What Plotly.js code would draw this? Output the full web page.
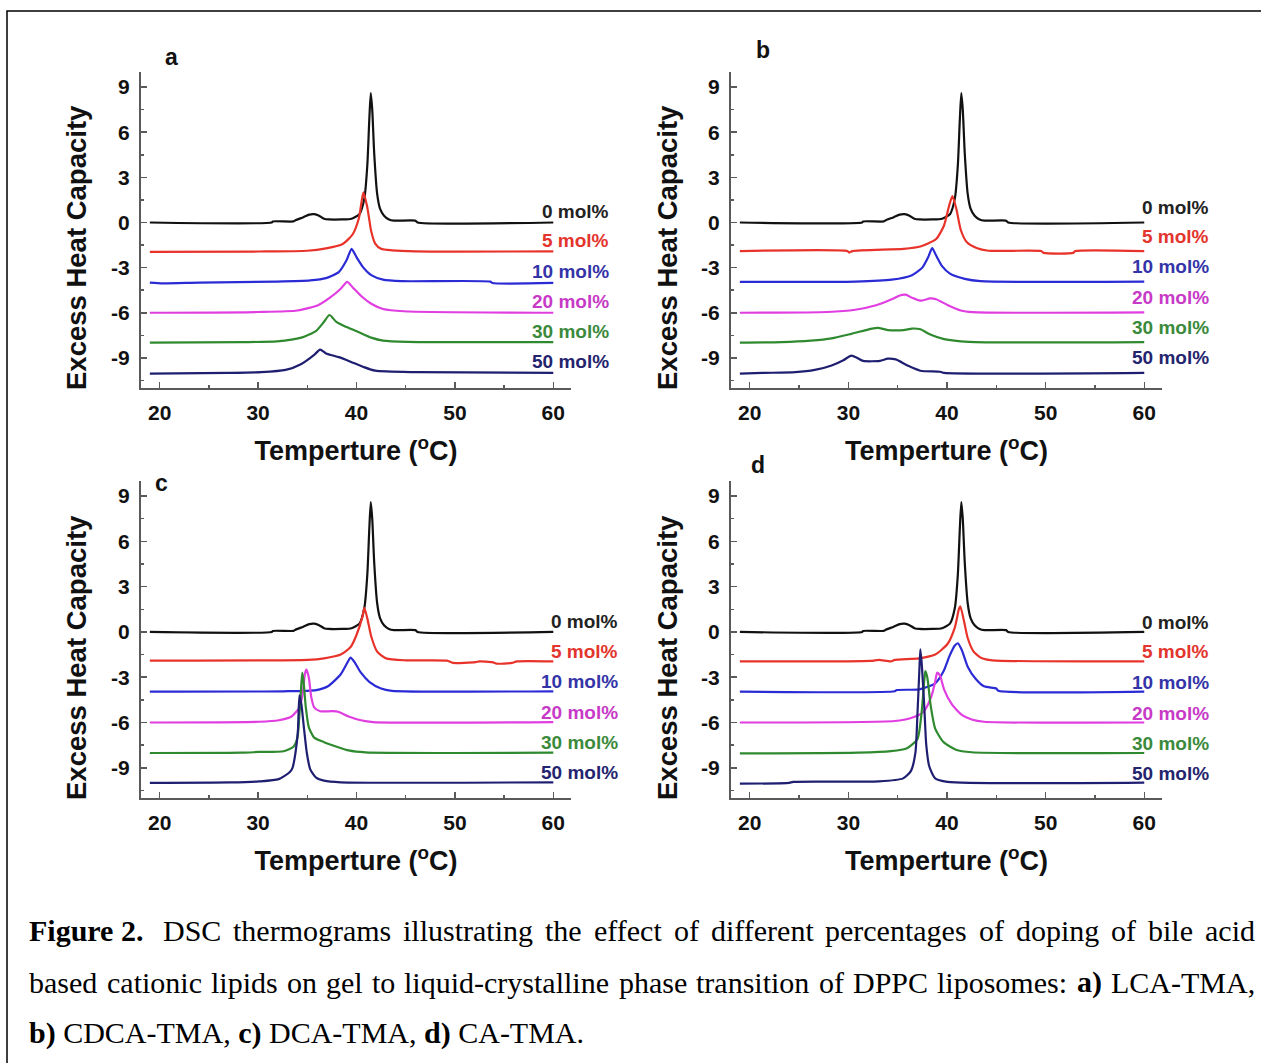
<!DOCTYPE html>
<html><head><meta charset="utf-8">
<script src="https://cdn.plot.ly/plotly-3.0.1.min.js"></script>
<style>body{margin:0;background:#fff} #chart{width:1261px;height:1063px}</style>
</head><body><div id="chart"></div>
<script>
// ---- data (temperature in °C, excess heat capacity, curves offset as drawn) ----
const seriesLabels = ['0 mol%','5 mol%','10 mol%','20 mol%','30 mol%','50 mol%'];
const panelLetters = ['a','b','c','d'];
const yTickVals = [-9, -6, -3, 0, 3, 6, 9];
const xTickVals = [20, 30, 40, 50, 60];

// pure DPPC (0 mol%) - same trace in all panels
const dppc0T = [19, 31.4, 31.5, 33.6, 33.8, 34.6, 35.2, 35.7, 36.2, 36.7, 37.2, 38.5, 39.5, 40.3, 40.8, 41.1, 41.3, 41.45, 41.6, 41.8, 42.1, 42.4, 42.8, 43.3, 43.8, 46.0, 46.2, 60];
const dppc0Y = [0, 0, 0.07, 0.07, 0.15, 0.35, 0.52, 0.55, 0.45, 0.25, 0.2, 0.2, 0.25, 0.55, 1.6, 3.8, 6.8, 8.6, 7.5, 4.6, 1.9, 0.9, 0.45, 0.2, 0.12, 0.12, 0.0, 0.0];

// a) LCA-TMA
const a5T = [19, 30, 35, 36.9, 38.6, 39.6, 40.25, 40.7, 41.1, 41.5, 41.9, 42.5, 43.6, 46, 60];
const a5Y = [-1.95, -1.93, -1.88, -1.72, -1.43, -0.8, 0.3, 2.0, 1.0, -0.6, -1.4, -1.75, -1.85, -1.92, -1.92];
const a10T = [19, 20.3, 24, 31.9, 35.3, 36.9, 38.2, 39.0, 39.5, 40.0, 40.7, 41.5, 42.7, 44.6, 53.6, 53.8, 60];
const a10Y = [-4.0, -4.05, -4.0, -3.93, -3.85, -3.7, -3.3, -2.5, -1.75, -2.3, -3.0, -3.5, -3.8, -3.9, -3.93, -4.02, -4.02];
const a20T = [19, 30, 34, 36.1, 37.3, 38.4, 39.05, 39.6, 40.5, 41.5, 42.7, 44.8, 60];
const a20Y = [-6.0, -5.95, -5.85, -5.5, -5.0, -4.4, -3.95, -4.3, -4.9, -5.4, -5.75, -5.9, -6.0];
const a30T = [19, 28.5, 31.9, 34.4, 35.9, 36.7, 37.25, 37.95, 39.0, 40.25, 41.5, 42.7, 45.2, 60];
const a30Y = [-7.98, -7.95, -7.9, -7.65, -7.2, -6.6, -6.15, -6.6, -6.95, -7.3, -7.65, -7.85, -7.93, -7.95];
const a50T = [19, 27, 30.3, 32.8, 34.4, 35.7, 36.3, 36.9, 38.2, 39.4, 40.7, 41.9, 46.1, 60];
const a50Y = [-10.05, -10.0, -9.95, -9.8, -9.4, -8.8, -8.45, -8.7, -8.95, -9.25, -9.6, -9.85, -9.95, -10.0];

// b) CDCA-TMA
const b5T = [19, 29.9, 30.1, 30.4, 35.6, 37.3, 38.9, 39.7, 40.25, 40.55, 40.95, 41.4, 42.0, 43.0, 44.2, 49.55, 49.8, 52.8, 53.0, 60];
const b5Y = [-1.9, -1.9, -2.0, -1.9, -1.75, -1.6, -1.1, -0.2, 1.2, 1.75, 0.9, -0.5, -1.3, -1.7, -1.88, -1.9, -2.02, -2.02, -1.9, -1.9];
const b10T = [19, 30.7, 34.4, 36.45, 37.5, 38.1, 38.5, 38.9, 39.5, 40.3, 41.8, 43.4, 60];
const b10Y = [-3.95, -3.93, -3.8, -3.5, -3.0, -2.3, -1.7, -2.2, -2.9, -3.4, -3.75, -3.9, -3.93];
const b20T = [19, 27.9, 30.7, 32.8, 34.4, 35.2, 35.8, 36.45, 37.3, 38.3, 38.9, 40.1, 41.4, 42.6, 60];
const b20Y = [-6.0, -5.95, -5.8, -5.5, -5.1, -4.85, -4.8, -5.0, -5.2, -5.05, -5.1, -5.5, -5.85, -5.96, -5.98];
const b30T = [19, 23.2, 26.2, 28.3, 30.3, 32.4, 33.0, 34.0, 35.6, 36.45, 37.3, 38.3, 39.7, 42.2, 60];
const b30Y = [-7.98, -7.95, -7.85, -7.7, -7.4, -7.05, -7.0, -7.15, -7.15, -7.05, -7.1, -7.45, -7.75, -7.93, -7.95];
const b50T = [19, 21.3, 24.6, 26.6, 28.3, 29.5, 30.3, 30.9, 31.5, 33.2, 34.0, 34.8, 36.0, 37.3, 39.3, 39.7, 60];
const b50Y = [-10.05, -10.0, -9.95, -9.8, -9.5, -9.15, -8.85, -9.0, -9.2, -9.2, -9.05, -9.1, -9.5, -9.85, -9.92, -10.0, -10.0];

// c) DCA-TMA
const c5T = [19, 35.05, 36.7, 38.4, 39.4, 40.0, 40.6, 40.8, 41.1, 41.5, 42.1, 43.0, 45.0, 49.2, 49.8, 52.1, 52.5, 53.8, 54.2, 55.8, 56.3, 60];
const c5Y = [-1.9, -1.85, -1.75, -1.5, -1.0, -0.2, 1.0, 1.6, 0.9, -0.3, -1.3, -1.75, -1.88, -1.9, -2.05, -2.0, -1.95, -2.0, -2.1, -2.05, -1.95, -1.95];
const c10T = [19, 32.6, 35.9, 37.1, 38.4, 39.1, 39.4, 39.8, 40.45, 41.3, 42.5, 43.6, 60];
const c10Y = [-3.95, -3.93, -3.85, -3.6, -2.8, -2.0, -1.7, -2.0, -2.7, -3.3, -3.75, -3.9, -3.93];
const c20T = [19, 30.1, 32.1, 33.4, 34.2, 34.55, 34.75, 34.9, 35.15, 35.4, 35.7, 36.3, 37.55, 38.2, 39.2, 40.45, 41.7, 60];
const c20Y = [-6.0, -5.95, -5.85, -5.6, -5.0, -4.0, -2.8, -2.5, -3.0, -4.3, -5.0, -5.25, -5.25, -5.3, -5.6, -5.85, -5.97, -5.97];
const c30T = [19, 28.4, 30.1, 32.6, 33.6, 34.0, 34.2, 34.4, 34.5, 34.65, 34.85, 35.15, 35.7, 36.7, 38.0, 39.2, 40.9, 60];
const c30Y = [-8.02, -8.0, -7.95, -7.9, -7.6, -7.0, -5.5, -3.4, -2.7, -3.5, -5.0, -6.3, -7.0, -7.3, -7.6, -7.85, -7.98, -8.0];
const c50T = [19, 27.15, 30.1, 32.1, 33.2, 33.5, 33.8, 34.05, 34.2, 34.4, 34.65, 34.95, 35.3, 35.9, 36.7, 38.4, 60];
const c50Y = [-10.0, -9.97, -9.9, -9.75, -9.3, -9.0, -8.0, -6.5, -4.2, -4.8, -6.3, -8.0, -9.1, -9.65, -9.85, -9.96, -9.96];

// d) CA-TMA
const d5T = [19, 32.25, 33.1, 34.3, 34.7, 37.2, 38.8, 40.05, 40.8, 41.2, 41.35, 41.7, 42.1, 42.7, 43.55, 44.6, 60];
const d5Y = [-1.95, -1.92, -1.85, -1.95, -1.85, -1.75, -1.5, -0.8, 0.3, 1.5, 1.7, 0.8, -0.4, -1.3, -1.75, -1.88, -1.95];
const d10T = [19, 34.7, 34.9, 37.2, 38.8, 39.65, 40.25, 40.8, 41.1, 41.5, 42.1, 42.9, 43.75, 45.0, 45.2, 60];
const d10Y = [-3.95, -3.93, -3.85, -3.8, -3.4, -2.6, -1.6, -0.9, -0.75, -1.2, -2.3, -3.1, -3.6, -3.75, -3.9, -3.95];
const d20T = [19, 34.7, 36.35, 37.6, 38.4, 38.8, 39.0, 39.3, 39.7, 40.5, 41.5, 42.5, 43.75, 60];
const d20Y = [-6.0, -5.9, -5.7, -5.3, -4.3, -3.3, -2.7, -2.9, -3.8, -4.8, -5.5, -5.8, -5.95, -6.0];
const d30T = [19, 31.0, 34.3, 35.95, 37.0, 37.4, 37.7, 37.8, 38.0, 38.35, 38.8, 39.65, 40.9, 42.5, 60];
const d30Y = [-8.05, -8.0, -7.9, -7.7, -7.1, -5.5, -3.2, -2.6, -3.0, -4.9, -6.4, -7.3, -7.8, -7.97, -8.02];
const d50T = [19, 24.0, 24.4, 33.1, 35.55, 36.35, 36.8, 37.0, 37.2, 37.3, 37.45, 37.7, 37.9, 38.2, 38.8, 40.05, 60];
const d50Y = [-10.05, -10.0, -9.93, -9.9, -9.7, -9.2, -8.0, -5.5, -2.5, -1.15, -2.2, -5.0, -7.5, -8.9, -9.7, -9.93, -9.98];

const captionLines = [
  '<b>Figure 2.</b> DSC thermograms illustrating the effect of different percentages of doping of bile acid',
  'based cationic lipids on gel to liquid-crystalline phase transition of DPPC liposomes: <b>a)</b> LCA-TMA,',
  '<b>b)</b> CDCA-TMA, <b>c)</b> DCA-TMA, <b>d)</b> CA-TMA.'
];

// ---- styling ----
const lineColors = ['#111111', '#e8332b', '#2b2bd6', '#e03ee0', '#2f8a2f', '#1f1f72'];
const textColors = ['#222222', '#e3352d', '#3434a8', '#c73ac7', '#3b8a3b', '#24246e'];

const W = 1261, H = 1063;
const px = v => v / W, py = v => 1 - v / H;

const panels = [
  {xa:'x',  ya:'y',  T:[dppc0T,a5T,a10T,a20T,a30T,a50T], Y:[dppc0Y,a5Y,a10Y,a20Y,a30Y,a50Y], labX:1.093, labShift:11, letter:[171,57], ytitle:[76,248]},
  {xa:'x2', ya:'y2', T:[dppc0T,b5T,b10T,b20T,b30T,b50T], Y:[dppc0Y,b5Y,b10Y,b20Y,b30Y,b50Y], labX:1.113, labShift:15, letter:[763,50], ytitle:[667,248]},
  {xa:'x3', ya:'y3', T:[dppc0T,c5T,c10T,c20T,c30T,c50T], Y:[dppc0Y,c5Y,c10Y,c20Y,c30Y,c50Y], labX:1.114, labShift:10, letter:[162,483], ytitle:[76,658]},
  {xa:'x4', ya:'y4', T:[dppc0T,d5T,d10T,d20T,d30T,d50T], Y:[dppc0Y,d5Y,d10Y,d20Y,d30Y,d50Y], labX:1.113, labShift:9.5, letter:[758,465], ytitle:[667,658]}
];

const sans = 'Liberation Sans, Arial, sans-serif';
const traces = [];
const annotations = [];
panels.forEach((p, pi) => {
  p.T.forEach((t, si) => {
    traces.push({x: t, y: p.Y[si], xaxis: p.xa, yaxis: p.ya, type: 'scatter', mode: 'lines',
      line: {color: lineColors[si], width: 2.2, shape: 'spline', smoothing: 0.6}, name: seriesLabels[si], showlegend: false, hoverinfo: 'x+y'});
    annotations.push({xref: p.xa + ' domain', yref: p.ya, x: p.labX, y: p.Y[si][p.Y[si].length - 1], yshift: p.labShift,
      xanchor: 'right', yanchor: 'middle', showarrow: false, text: seriesLabels[si],
      font: {family: sans, size: 19, color: textColors[si], weight: 'bold'}});
  });
  annotations.push({xref: 'paper', yref: 'paper', x: px(p.letter[0]), y: py(p.letter[1]), xanchor: 'center', yanchor: 'middle',
    showarrow: false, text: panelLetters[pi], font: {family: sans, size: 23, color: '#111', weight: 'bold'}});
  annotations.push({xref: 'paper', yref: 'paper', x: px(p.ytitle[0]), y: py(p.ytitle[1]), xanchor: 'center', yanchor: 'middle',
    textangle: -90, showarrow: false, text: 'Excess Heat Capacity', font: {family: sans, size: 27.5, color: '#111', weight: 'bold'}});
});

// caption: lines 1-2 justified between x=27 and x=1253 (word positions measured), line 3 left aligned
const capFontSize = 30, capFam = 'Liberation Serif';
const capY = [930, 982, 1033];
const cvs = document.createElement('canvas').getContext('2d');
function measure(tok) {
  const bold = tok.indexOf('<b>') >= 0;
  cvs.font = (bold ? 'bold ' : '') + capFontSize + 'px "' + capFam + '"';
  return cvs.measureText(tok.replace(/<\/?b>/g, '')).width;
}
captionLines.forEach((line, i) => {
  const capFont = {family: capFam + ', Times New Roman, serif', size: capFontSize, color: '#000'};
  if (i < 2) {
    const toks = line.match(/<b>.*?<\/b>|\S+/g);
    const widths = toks.map(measure);
    const total = widths.reduce((a, b) => a + b, 0);
    const extra = i === 0 ? measure(' ') : 0; // wider gap after "Figure 2."
    const gap = (1253 - 27 - total - extra) / (toks.length - 1);
    let xpos = 27;
    toks.forEach((tk, k) => {
      annotations.push({xref: 'paper', yref: 'paper', x: px(xpos), y: py(capY[i]), xanchor: 'left', yanchor: 'middle',
        showarrow: false, text: tk, font: capFont, xshift: 0});
      xpos += widths[k] + gap + (i === 0 && k === 0 ? extra : 0);
    });
  } else {
    annotations.push({xref: 'paper', yref: 'paper', x: px(27), y: py(capY[i]), xanchor: 'left', yanchor: 'middle',
      showarrow: false, text: line, font: capFont});
  }
});

const tickFont = {family: sans, size: 21, color: '#111', weight: 'bold'};
const titleFont = {family: sans, size: 27, color: '#111', weight: 'bold'};
const axCol = '#5a5a5a';

function xax(dom, anchor) {
  return {domain: dom, anchor: anchor, range: [18.1, 61.8], showgrid: false, zeroline: false,
    showline: true, linecolor: axCol, linewidth: 2, ticks: 'inside', ticklen: 6, tickwidth: 1.5, tickcolor: axCol,
    tickmode: 'array', tickvals: xTickVals, ticktext: xTickVals.map(String),
    minor: {tick0: 0, dtick: 5, ticks: 'inside', ticklen: 3, tickwidth: 1.5, tickcolor: axCol},
    tickfont: tickFont, ticklabelstandoff: 5,
    title: {text: 'Temperture (<sup>o</sup>C)', font: titleFont, standoff: 18}, fixedrange: true};
}
function yax(dom, anchor) {
  return {domain: dom, anchor: anchor, range: [-11, 10], showgrid: false, zeroline: false,
    showline: true, linecolor: axCol, linewidth: 2, ticks: 'inside', ticklen: 6, tickwidth: 1.5, tickcolor: axCol,
    tickmode: 'array', tickvals: yTickVals, ticktext: yTickVals.map(String),
    minor: {tick0: 0, dtick: 1.5, ticks: 'inside', ticklen: 3, tickwidth: 1.5, tickcolor: axCol},
    tickfont: tickFont, ticklabelstandoff: 5, fixedrange: true};
}

const colL = [px(141), px(571)], colR = [px(731), px(1162)];
const rowT = [py(388), py(72)], rowB = [py(798), py(481)];

const layout = {
  width: W, height: H, margin: {l: 0, r: 0, t: 0, b: 0}, paper_bgcolor: '#fff', plot_bgcolor: 'rgba(0,0,0,0)',
  showlegend: false,
  xaxis: xax(colL, 'y'), yaxis: yax(rowT, 'x'),
  xaxis2: xax(colR, 'y2'), yaxis2: yax(rowT, 'x2'),
  xaxis3: xax(colL, 'y3'), yaxis3: yax(rowB, 'x3'),
  xaxis4: xax(colR, 'y4'), yaxis4: yax(rowB, 'x4'),
  annotations: annotations,
  shapes: [{type: 'rect', xref: 'paper', yref: 'paper', x0: px(7), x1: 1.01, y0: -0.01, y1: py(11),
    line: {color: '#000', width: 1.5}, fillcolor: 'rgba(0,0,0,0)'}]
};

Plotly.newPlot('chart', traces, layout, {displayModeBar: false, staticPlot: true});
</script></body></html>
